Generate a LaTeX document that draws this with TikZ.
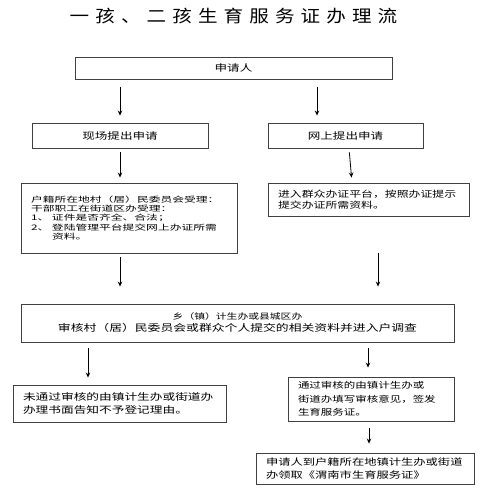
\documentclass[tikz,border=0pt]{standalone}
\usepackage{fontspec}
\setmainfont{Noto Sans CJK SC}[FakeStretch=1.35]
\newfontfamily\widefont{Noto Sans CJK SC}[FakeStretch=1.55]
\newfontfamily\titlefont{Noto Sans CJK SC}[FakeStretch=1.15,LetterSpace=36]
\usetikzlibrary{arrows.meta}

\begin{document}
\begin{tikzpicture}[x=1pt,y=-1pt]
    \tikzset{box/.style = {draw=black!75, line width=0.9pt, inner xsep=10pt, inner ysep=2pt, font=\fontsize{9.3}{13}\selectfont}}
    \tikzset{arrow/.style = {-{Stealth[length=5pt,width=4.5pt]}, line width=0.8pt}}
    \useasboundingbox (0,0) rectangle (499,500);
    \node (title) at (233.5,16) {\titlefont\fontsize{17}{20}\selectfont 一孩、二孩生育服务证办理流};
    \node[box, minimum width=317pt, minimum height=22pt] (applicant) at (233.5,68) {申请人};
    \node[box, minimum width=176pt, minimum height=25pt] (onsite) at (120,135.5) {现场提出申请};
    \node[box, minimum width=155pt, minimum height=25pt] (online) at (345.5,135.5) {网上提出申请};
    \node[box, text width=196pt, minimum height=70pt, align=left, font=\widefont\fontsize{7.6}{9.2}\selectfont] (accept) at (129,218)
        {户籍所在地村（居）民委员会受理：\\干部职工在街道区办受理：\\\makebox[21pt][l]{1、}证件是否齐全、合法；\\\makebox[21pt][l]{2、}登陆管理平台提交网上办证所需\\\hspace*{21pt}资料。};
    \node[box, text width=181pt, minimum height=33pt, align=left, font=\fontsize{8.8}{11}\selectfont] (submit) at (368.5,199.5)
        {进入群众办证平台，按照办证提示\\提交办证所需资料。};
    \node[box, minimum width=433pt, minimum height=38pt, align=center, font=\fontsize{9.5}{12}\selectfont] (review) at (237.5,323)
        {{\fontsize{8}{12}\selectfont 乡（镇）计生办或县城区办}\\审核村（居）民委员会或群众个人提交的相关资料并进入户调查};
    \node[box, text width=146pt, minimum height=44pt, align=left, font=\fontsize{8.5}{13.5}\selectfont] (approve) at (371,399)
        {通过审核的由镇计生办或\\街道办填写审核意见，签发\\生育服务证。};
    \node[box, text width=193pt, minimum height=37pt, align=left, font=\fontsize{9.4}{13}\selectfont] (reject) at (119.5,403.5)
        {未通过审核的由镇计生办或街道办\\办理书面告知不予登记理由。};
    \node[box, text width=198pt, minimum height=31pt, align=left, font=\fontsize{9.1}{13}\selectfont] (collect) at (365,468.5)
        {申请人到户籍所在地镇计生办或街道\\办领取《渭南市生育服务证》};
    % applicant -> two ways
    \draw[arrow, shorten <=8pt, shorten >=7pt] (applicant.south -| onsite.north) -- (onsite.north);
    \draw[arrow, shorten <=8pt, shorten >=7pt] ([xshift=-28.5pt]online.north |- applicant.south) -- ([xshift=-28.5pt]online.north);
    \draw[arrow, shorten <=4pt, shorten >=5pt] (onsite.south) -- (onsite.south |- accept.north);
    \draw[arrow, shorten <=4pt, shorten >=5pt] ([xshift=3.5pt]online.south) -- ([xshift=-16.5pt]submit.north);
    % into the review
    \draw[arrow, shorten <=4pt, shorten >=17pt] ([xshift=-9pt]accept.south) -- ([xshift=-9pt]accept.south |- review.north);
    \draw[arrow, shorten <=37pt, shorten >=17pt] ([xshift=9.5pt]submit.south) -- ([xshift=9.5pt]submit.south |- review.north);
    % results
    \draw[arrow, shorten <=6pt, shorten >=7pt] ([xshift=-31.5pt]reject.north |- review.south) -- ([xshift=-31.5pt]reject.north);
    \draw[arrow, shorten <=6pt, shorten >=9pt] ([xshift=-3pt]approve.north |- review.south) -- ([xshift=-3pt]approve.north);
    \draw[arrow, shorten <=7pt, shorten >=9pt] ([xshift=-2pt]approve.south) -- ([xshift=-2pt]approve.south |- collect.north);
  \end{tikzpicture}
\end{document}
